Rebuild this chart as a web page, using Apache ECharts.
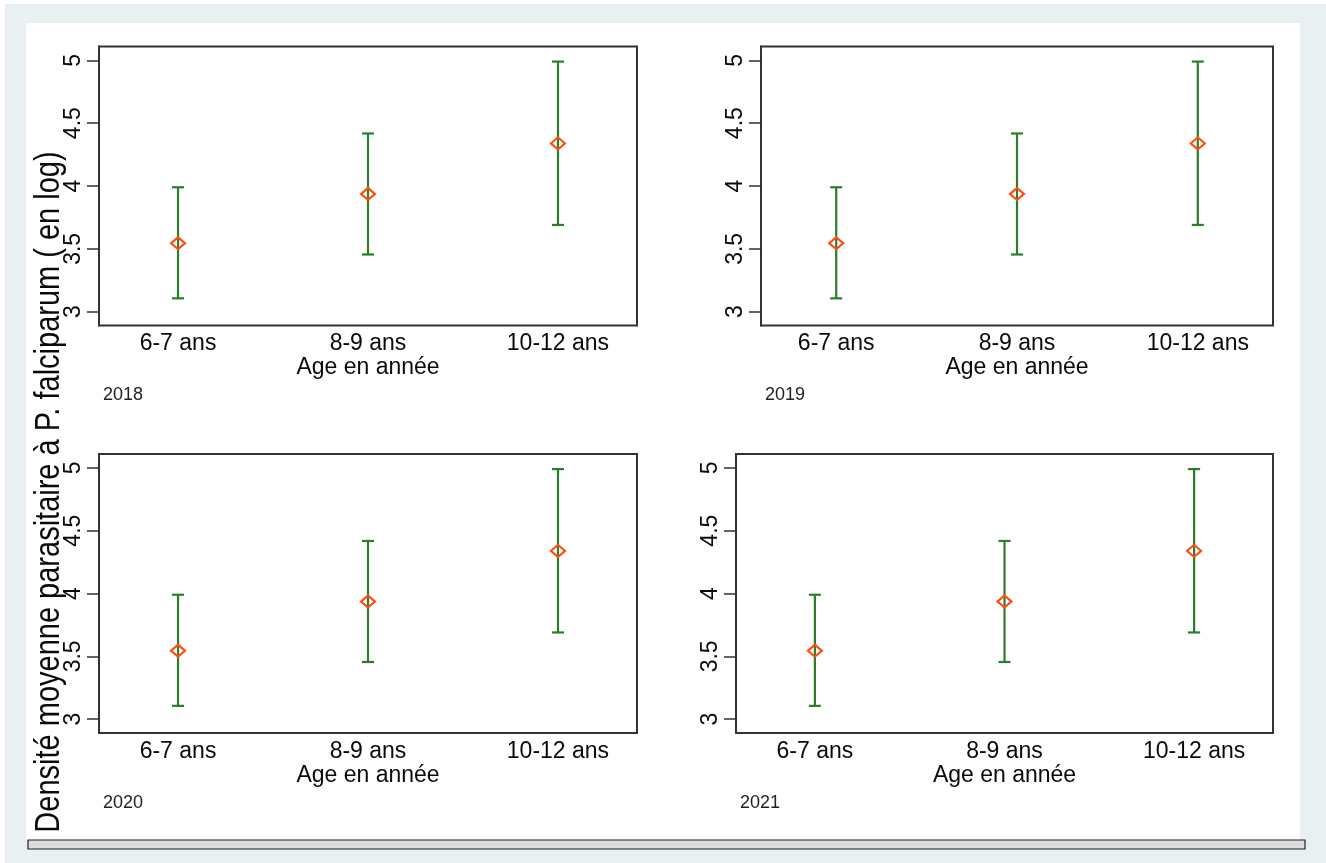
<!DOCTYPE html>
<html>
<head>
<meta charset="utf-8">
<title>Densité moyenne parasitaire</title>
<script src="https://cdn.jsdelivr.net/npm/echarts@6/dist/echarts.min.js"></script>
<style>
  html, body { margin: 0; padding: 0; background: #fff; }
  #main { width: 1326px; height: 863px; }
</style>
</head>
<body>
<div id="main"></div>
<script>
// donnees (identiques pour les 4 annees)
var ages = ['6-7 ans', '8-9 ans', '10-12 ans'];
var annees = ['2018', '2019', '2020', '2021'];
var moyenne = [3.545, 3.937, 4.339];
var borneInf = [3.106, 3.455, 3.69];
var borneSup = [3.99, 4.418, 4.99];
var yTicks = [3, 3.5, 4, 4.5, 5];
var xTicks = [1, 2, 3];

var vert = '#2a7d2a';
var orange = '#ff4d12';
var police = '"Liberation Sans", Arial, sans-serif';

// position des 4 cadres (px)
var cadres = [
  { left: 99,  top: 46.5, width: 538, height: 279 },
  { left: 761, top: 46.5, width: 512, height: 279 },
  { left: 99,  top: 454,  width: 538, height: 279 },
  { left: 736, top: 454,  width: 537, height: 279 }
];
var posAnnee = [[103, 386], [765, 386], [103, 794], [740, 794]];

// barres d'erreur
function drawBar(params, api) {
  var x = api.value(0);
  var lo = api.coord([x, api.value(1)]);
  var hi = api.coord([x, api.value(2)]);
  var cap = 6;
  var st = { stroke: vert, lineWidth: 2.2 };
  return {
    type: 'group',
    children: [
      { type: 'line', shape: { x1: lo[0], y1: lo[1], x2: hi[0], y2: hi[1] }, style: st },
      { type: 'line', shape: { x1: lo[0] - cap, y1: lo[1], x2: lo[0] + cap, y2: lo[1] }, style: st },
      { type: 'line', shape: { x1: hi[0] - cap, y1: hi[1], x2: hi[0] + cap, y2: hi[1] }, style: st }
    ]
  };
}

var barData = [];
var pointData = [];
for (var i = 0; i < ages.length; i++) {
  barData.push([xTicks[i], borneInf[i], borneSup[i]]);
  pointData.push([xTicks[i], moyenne[i]]);
}

var grids = [], xAxes = [], yAxes = [], series = [], titles = [];
for (var k = 0; k < cadres.length; k++) {
  var c = cadres[k];
  grids.push({
    left: c.left, top: c.top, width: c.width, height: c.height,
    show: true, borderColor: '#333', borderWidth: 2,
    backgroundColor: 'transparent', containLabel: false, outerBoundsMode: 'none'
  });
  xAxes.push({
    type: 'value', gridIndex: k, min: 0.584, max: 3.416,
    splitLine: { show: false },
    axisLine: { show: false },
    axisTick: { show: false },
    axisLabel: {
      customValues: xTicks, margin: 7,
      fontSize: 23, fontFamily: police, color: '#0a0a0a',
      formatter: function (v) { return ages[Math.round(v) - 1]; }
    },
    name: 'Age en année', nameLocation: 'middle', nameGap: 27,
    nameTextStyle: { fontSize: 23, fontFamily: police, color: '#0a0a0a' }
  });
  yAxes.push({
    type: 'value', gridIndex: k, min: 2.89, max: 5.11,
    splitLine: { show: false },
    axisLine: { show: true, lineStyle: { color: '#333', width: 2 } },
    axisTick: { show: true, customValues: yTicks, length: 12, lineStyle: { color: '#333', width: 1.5 } },
    axisLabel: {
      customValues: yTicks, rotate: 90, margin: 14,
      fontSize: 23, fontFamily: police, color: '#0a0a0a',
      formatter: function (v) { return String(v); }
    }
  });
  series.push({
    type: 'custom', xAxisIndex: k, yAxisIndex: k,
    renderItem: drawBar, data: barData, z: 3, silent: true
  });
  series.push({
    type: 'scatter', xAxisIndex: k, yAxisIndex: k,
    symbol: 'diamond', symbolSize: [14, 12],
    itemStyle: { color: 'transparent', borderColor: orange, borderWidth: 2.2, opacity: 1 },
    data: pointData, z: 4, silent: true
  });
  titles.push({
    text: annees[k], left: posAnnee[k][0], top: posAnnee[k][1], padding: 0,
    textStyle: { fontSize: 18, fontWeight: 'normal', fontFamily: police, color: '#222' }
  });
}

var myChart = echarts.init(document.getElementById('main'), null, { renderer: 'canvas' });
myChart.setOption({
  animation: false,
  backgroundColor: '#fff',
  title: titles,
  grid: grids,
  xAxis: xAxes,
  yAxis: yAxes,
  series: series,
  graphic: [
    { type: 'rect', z: -10, shape: { x: 5, y: 4, width: 1321, height: 859 }, style: { fill: '#e8f0f2' } },
    { type: 'rect', z: -9, shape: { x: 26, y: 23, width: 1274, height: 817 }, style: { fill: '#fff' } },
    { type: 'rect', z: -8, shape: { x: 28, y: 840, width: 1277, height: 9 }, style: { fill: '#d9dddd', stroke: '#222', lineWidth: 1.2 } },
    {
      type: 'text', z: 10, x: 49, y: 492, rotation: Math.PI / 2, scaleY: 1.2,
      style: {
        text: 'Densité moyenne parasitaire à P. falciparum ( en log)',
        font: '29px ' + police, fill: '#0a0a0a',
        textAlign: 'center', textVerticalAlign: 'middle'
      }
    }
  ]
});
</script>
</body>
</html>
